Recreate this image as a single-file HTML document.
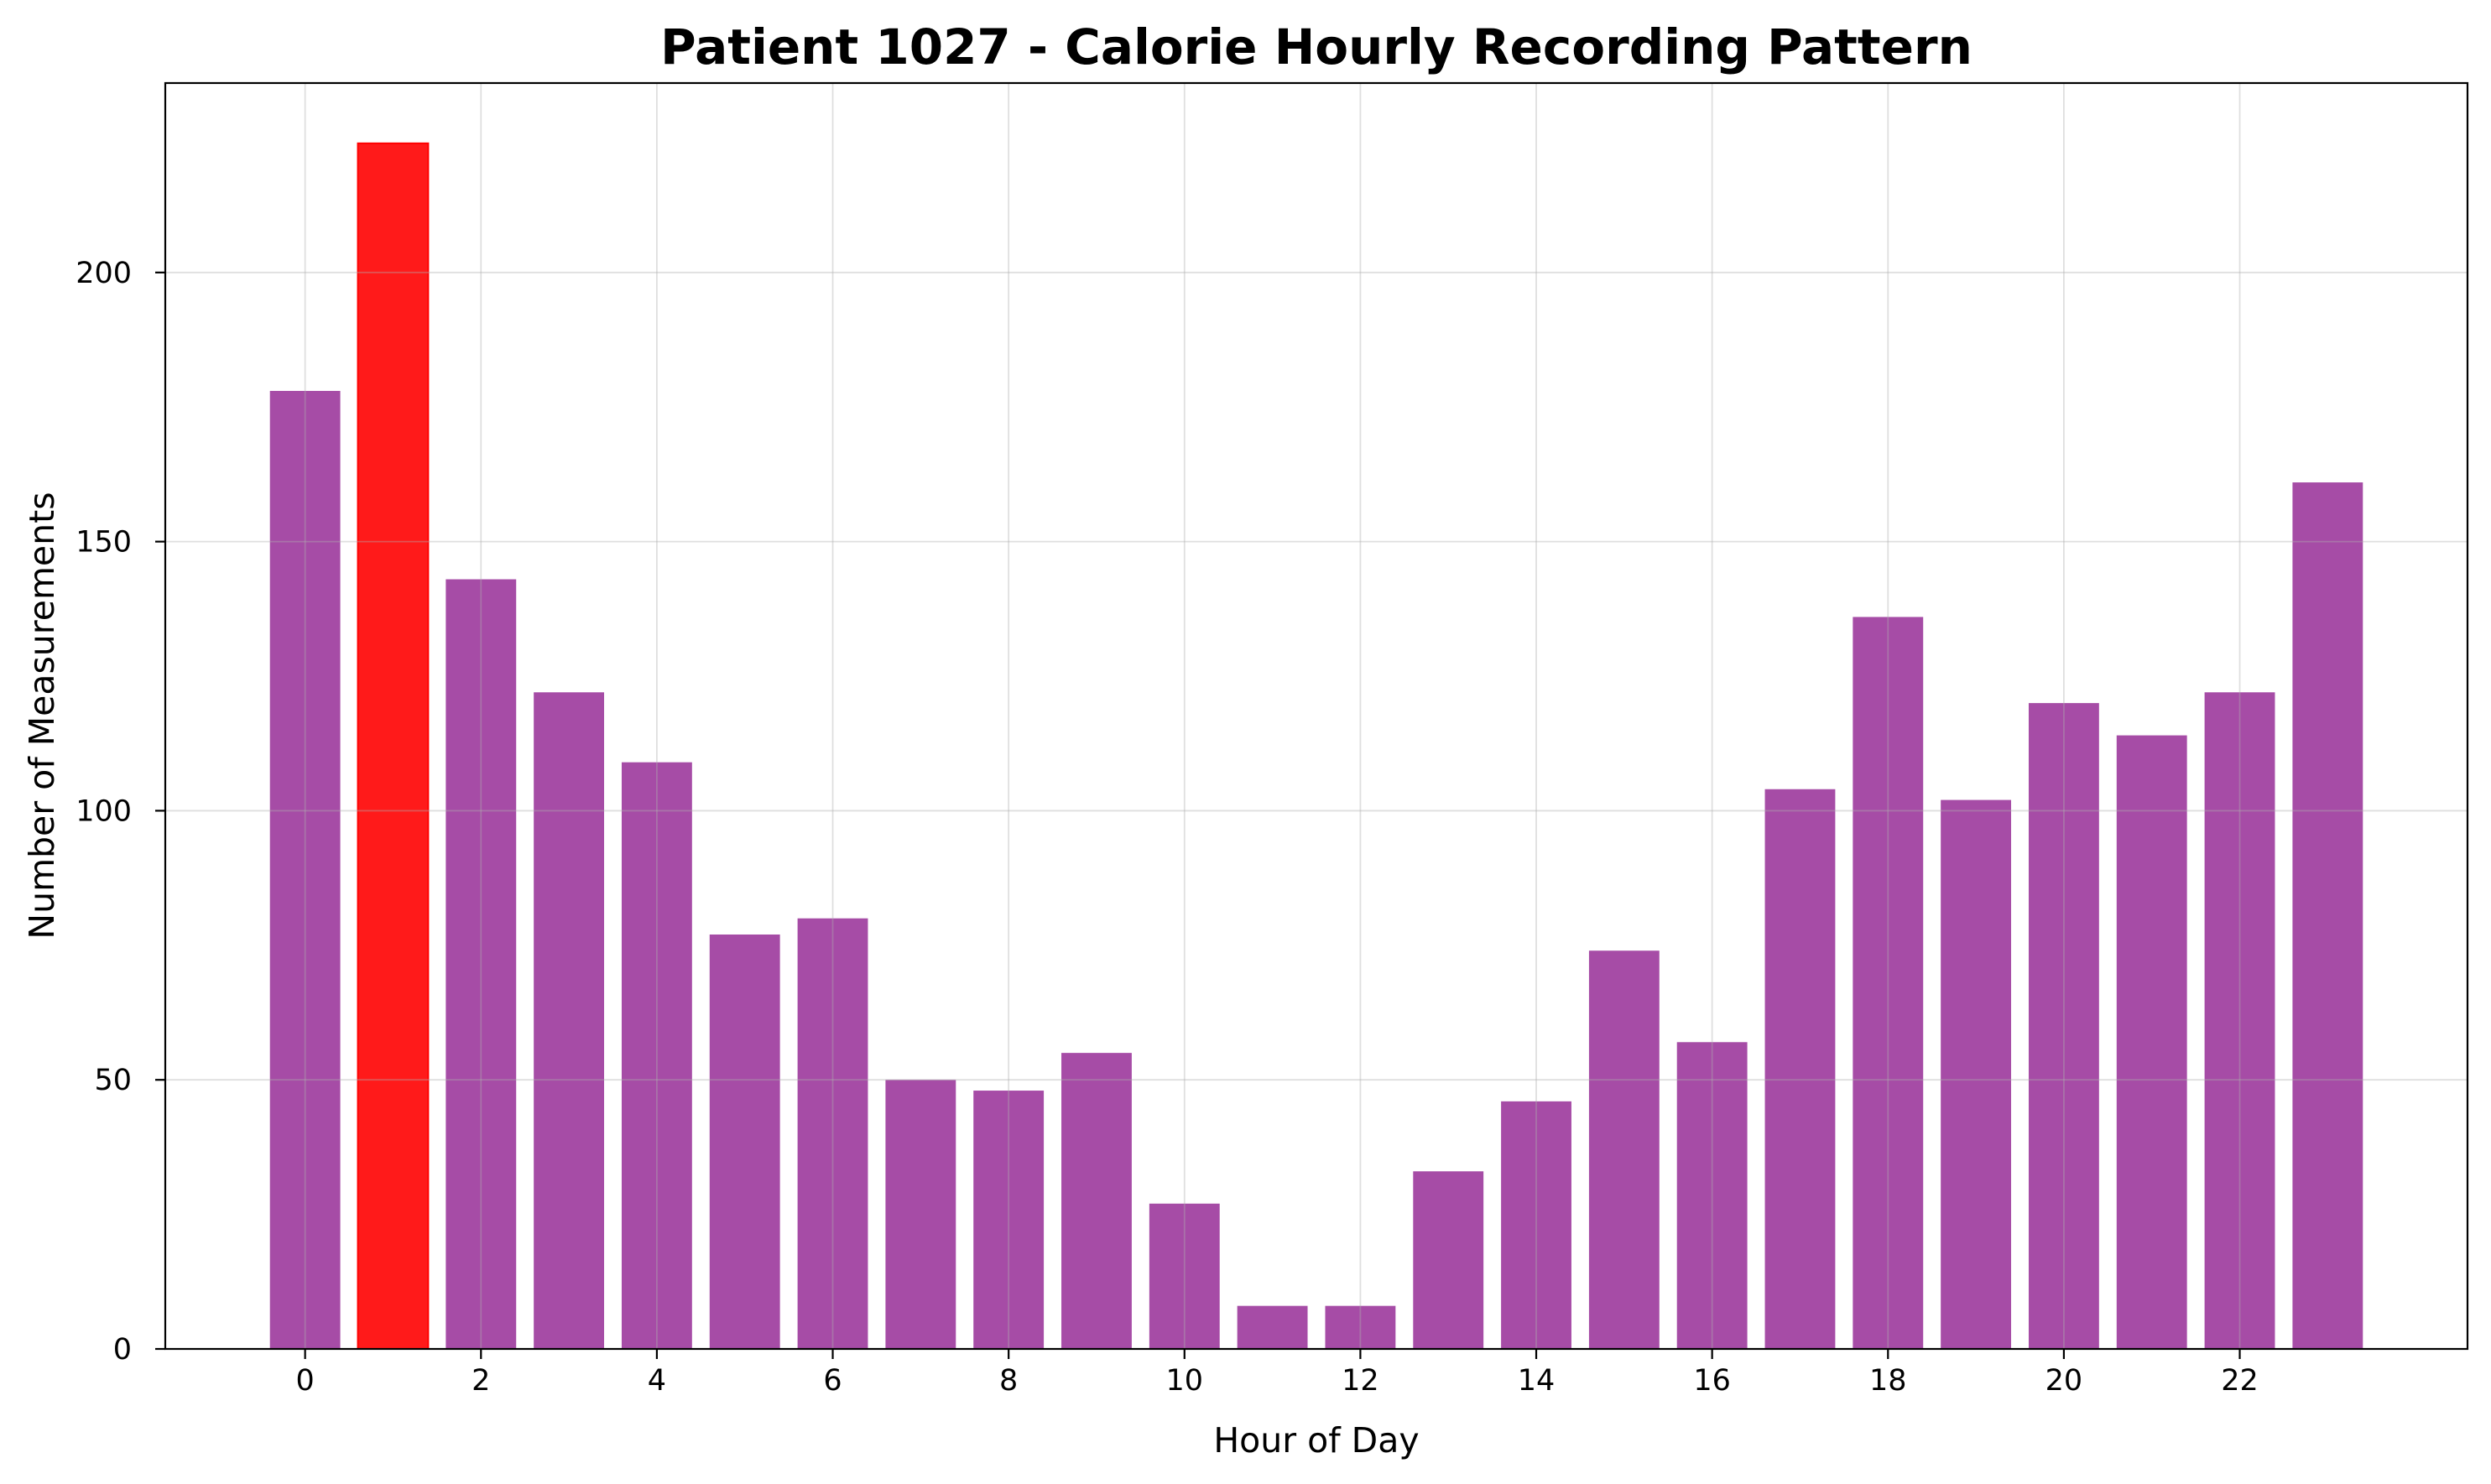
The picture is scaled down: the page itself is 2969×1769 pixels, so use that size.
<!DOCTYPE html>
<html><head><meta charset="utf-8"><style>
html,body{margin:0;padding:0;background:#fff;}
svg{display:block;font-family:"DejaVu Sans","Liberation Sans",sans-serif;}
</style></head><body>
<svg id="chart" width="2969" height="1769" viewBox="0 0 2969 1769" xmlns="http://www.w3.org/2000/svg">
<rect width="2969" height="1769" fill="#fff"/>
<text x="1569" y="76" text-anchor="middle" font-size="58" font-weight="bold">Patient 1027 - Calorie Hourly Recording Pattern</text>
<g id="bars"></g>
<g id="grid"></g>
<g id="ticks"></g>
<rect x="197" y="99" width="2744" height="1509" fill="none" stroke="#000" stroke-width="2.2"/>
<text x="1569" y="1731" text-anchor="middle" font-size="41">Hour of Day</text>
<text x="0" y="0" transform="translate(64,853) rotate(-90)" text-anchor="middle" font-size="41">Number of Measurements</text>
</svg>
<script>
const hours = [0,1,2,3,4,5,6,7,8,9,10,11,12,13,14,15,16,17,18,19,20,21,22,23];
const counts = [178,224,143,122,109,77,80,50,48,55,27,8,8,33,46,74,57,104,136,102,120,114,122,161];
const highlightHour = 1;
const xTicks = [0,2,4,6,8,10,12,14,16,18,20,22];
const yTicks = [0,50,100,150,200];

const L=197,R=2941,T=99,B=1608;
const xmin=-1.59,xmax=24.59,ymin=0,ymax=235.2;
const sx=v=>L+(v-xmin)/(xmax-xmin)*(R-L);
const sy=v=>B-(v-ymin)/(ymax-ymin)*(B-T);
const NS="http://www.w3.org/2000/svg";
function mk(tag,attrs,parent){const e=document.createElementNS(NS,tag);for(const k in attrs)e.setAttribute(k,attrs[k]);parent.appendChild(e);return e;}
const gb=document.getElementById('bars'),gg=document.getElementById('grid'),gt=document.getElementById('ticks');
hours.forEach((h,i)=>{
  const x0=sx(h-0.4),x1=sx(h+0.4),y=sy(counts[i]);
  const hi=h===highlightHour;
  const r=mk('rect',{x:x0,y:y,width:x1-x0,height:B-y,fill:hi?'#ff1a1a':'#a64ca6',stroke:hi?'#ff0000':'none','stroke-width':hi?2:0},gb);
  
  
});
xTicks.forEach(t=>{
  const x=sx(t);
  const g=mk('line',{x1:x,x2:x,y1:T,y2:B,stroke:'#b0b0b0','stroke-opacity':0.4,'stroke-width':1.8},gg);
  
  
  const tk=mk('line',{x1:x,x2:x,y1:B,y2:B+12,stroke:'#000','stroke-width':2.2},gt);
  
  
  const lb=mk('text',{x:x,y:B+49,'text-anchor':'middle','font-size':35},gt);
  lb.textContent=t;
  
  
});
yTicks.forEach(t=>{
  const y=sy(t);
  const g=mk('line',{x1:L,x2:R,y1:y,y2:y,stroke:'#b0b0b0','stroke-opacity':0.4,'stroke-width':1.8},gg);
  
  
  const tk=mk('line',{x1:L-12,x2:L,y1:y,y2:y,stroke:'#000','stroke-width':2.2},gt);
  
  
  const lb=mk('text',{x:L-40,y:y+12,'text-anchor':'end','font-size':35},gt);
  lb.textContent=t;
  
  
});
</script>
</body></html>
